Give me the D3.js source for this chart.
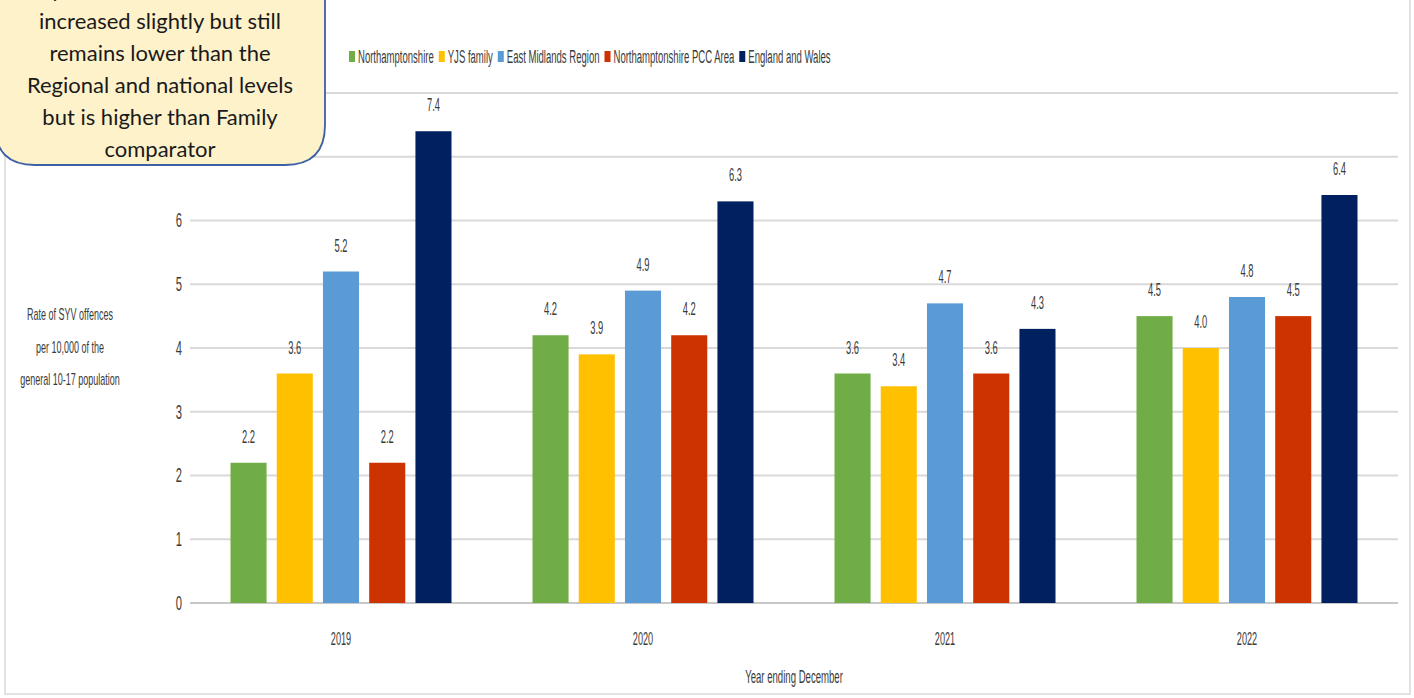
<!DOCTYPE html>
<html>
<head>
<meta charset="utf-8">
<script src="https://cdn.jsdelivr.net/npm/d3@7"></script>
<style>
  html, body { margin: 0; padding: 0; background: #ffffff; }
  svg { display: block; }
</style>
</head>
<body>
<svg id="chart" width="1414" height="698"></svg>
<script>
// Serious youth violence rates, per 10,000 of the 10-17 population
const years = ["2019", "2020", "2021", "2022"];
const seriesNames = ["Northamptonshire", "YJS family", "East Midlands Region", "Northamptonshire PCC Area", "England and Wales"];
const seriesColors = ["#70AD47", "#FFC000", "#5B9BD5", "#CC3300", "#002060"];
const northants    = [2.2, 4.2, 3.6, 4.5];
const yjsFamily    = [3.6, 3.9, 3.4, 4.0];
const eastMids     = [5.2, 4.9, 4.7, 4.8];
const pccArea      = [2.2, 4.2, 3.6, 4.5];
const englandWales = [7.4, 6.3, 4.3, 6.4];
const yTicks = [0, 1, 2, 3, 4, 5, 6, 7, 8];
const yLabelTicks = [0, 1, 2, 3, 4, 5, 6];
const yTitle = ["Rate of SYV offences", "per 10,000 of the", "general 10-17 population"];
const xTitle = "Year ending December";
const calloutLines = [
  "By 2022 the SYV rate has",
  "increased slightly but still",
  "remains lower than the",
  "Regional and national levels",
  "but is higher than Family",
  "comparator"
];

const seriesValues = [northants, yjsFamily, eastMids, pccArea, englandWales];

// condensed chart lettering: a regular face squeezed horizontally
const FONT = "'Liberation Sans', Arial, sans-serif";
const TEXT_COLOR = "#3a3a3a";
function squeeze(sel, x, y, sx) {
  sel.attr("x", 0).attr("y", 0)
    .attr("font-family", FONT)
    .attr("transform", `translate(${x},${y}) scale(${sx},1)`);
  return sel;
}

const svg = d3.select("#chart");

// chart area border
svg.append("rect")
  .attr("x", 5).attr("y", -10).attr("width", 1405).attr("height", 704)
  .attr("fill", "#ffffff").attr("stroke", "#d9d9d9").attr("stroke-width", 1.5);

const plotLeft = 190, plotRight = 1398, plotBottom = 603, plotTop = 93;

const x0 = d3.scaleBand().domain(years).range([plotLeft, plotRight]).padding(0);
const x1 = d3.scaleBand().domain(seriesNames)
  .range([40.5, 261.5]).paddingInner(0.22).paddingOuter(0);
const y = d3.scaleLinear().domain([0, 8]).range([plotBottom, plotTop]);

// gridlines
svg.append("g")
  .selectAll("line")
  .data(yTicks)
  .join("line")
  .attr("x1", plotLeft).attr("x2", plotRight)
  .attr("y1", d => y(d)).attr("y2", d => y(d))
  .attr("stroke", d => d === 0 ? "#c8c8c8" : "#d9d9d9")
  .attr("stroke-width", 2);

// y axis labels
const yAxis = d3.axisLeft(y).tickValues(yLabelTicks).tickSize(0).tickPadding(0).tickFormat(d3.format("d"));
svg.append("g")
  .attr("transform", `translate(182,0)`)
  .call(yAxis)
  .call(g => g.select(".domain").remove())
  .call(g => g.selectAll("text")
    .attr("font-family", FONT).attr("font-size", 20).attr("fill", TEXT_COLOR)
    .attr("transform", "scale(0.56,1)"));

// x axis labels
const xAxis = d3.axisBottom(x0).tickSize(0).tickPadding(0);
svg.append("g")
  .attr("transform", `translate(0,631)`)
  .call(xAxis)
  .call(g => g.select(".domain").remove())
  .call(g => g.selectAll("text")
    .attr("font-family", FONT).attr("font-size", 19).attr("fill", TEXT_COLOR)
    .attr("transform", "scale(0.48,1)"));

// bars
const groups = svg.append("g")
  .selectAll("g")
  .data(years)
  .join("g")
  .attr("transform", d => `translate(${x0(d)},0)`);

const cells = groups.selectAll("g")
  .data((yr, i) => seriesNames.map((s, k) => ({ series: s, value: seriesValues[k][i], color: seriesColors[k] })))
  .join("g");

cells.append("rect")
  .attr("x", d => x1(d.series))
  .attr("width", x1.bandwidth())
  .attr("y", d => y(d.value))
  .attr("height", d => y(0) - y(d.value))
  .attr("fill", d => d.color);

// value labels above bars
cells.append("text")
  .each(function(d) {
    squeeze(d3.select(this), x1(d.series) + x1.bandwidth() / 2, y(d.value) - 20, 0.52);
  })
  .attr("text-anchor", "middle")
  .attr("font-size", 18)
  .attr("fill", TEXT_COLOR)
  .text(d => d.value.toFixed(1));

// axis titles
svg.append("text")
  .call(squeeze, (plotLeft + plotRight) / 2, 683, 0.533)
  .attr("text-anchor", "middle").attr("font-size", 18).attr("fill", TEXT_COLOR)
  .text(xTitle);

svg.append("g")
  .selectAll("text").data(yTitle).join("text")
  .each(function(d, i) { squeeze(d3.select(this), 70, 320 + i * 32.5, 0.53); })
  .attr("text-anchor", "middle").attr("font-size", 17).attr("fill", TEXT_COLOR)
  .text(d => d);

// legend
const legend = svg.append("g").attr("transform", "translate(349,57)");
let lx = 0;
seriesNames.forEach((name, i) => {
  const item = legend.append("g").attr("transform", `translate(${lx},0)`);
  item.append("rect").attr("x", 0).attr("y", -6).attr("width", 6).attr("height", 11).attr("fill", seriesColors[i]);
  const t = item.append("text")
    .call(squeeze, 9, 6, 0.53)
    .attr("font-size", 18).attr("fill", TEXT_COLOR).text(name);
  lx += 9 + t.node().getComputedTextLength() * 0.53 + 5;
});

// callout box
const callout = svg.append("g");
callout.append("path")
  .attr("d", "M-20,-30 L325,-30 L325,125 Q325,165 285,165 L35,165 Q-5,165 -5,125 Z")
  .attr("fill", "#FEF2CB").attr("stroke", "#3D5FA3").attr("stroke-width", 1.8);
callout.selectAll("text").data(calloutLines).join("text")
  .attr("x", 160).attr("y", (d, i) => -3 + i * 32)
  .attr("text-anchor", "middle")
  .attr("font-family", "Lato, 'Open Sans', sans-serif")
  .attr("font-size", 22).attr("fill", "#1a1a1a")
  .text(d => d);
</script>
</body>
</html>
